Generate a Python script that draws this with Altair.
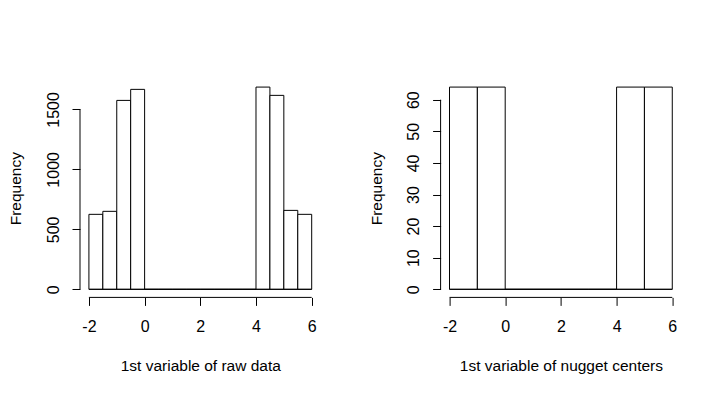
import altair as alt
import pandas as pd

# ---- data ----
raw_edges = [-2.0, -1.5, -1.0, -0.5, 0.0, 0.5, 1.0, 1.5, 2.0, 2.5, 3.0, 3.5,
             4.0, 4.5, 5.0, 5.5, 6.0]
raw_counts = [625, 650, 1575, 1667, 0, 0, 0, 0, 0, 0, 0, 0,
              1686, 1617, 658, 625]
nug_edges = [-2, -1, 0, 1, 2, 3, 4, 5, 6]
nug_counts = [64, 64, 0, 0, 0, 0, 64, 64]
x_ticks = [-2, 0, 2, 4, 6]
raw_y_ticks = [0, 500, 1000, 1500]
nug_y_ticks = [0, 10, 20, 30, 40, 50, 60]
raw_title = "1st variable of raw data"
nug_title = "1st variable of nugget centers"

W, H = 240.6, 218.4
FONT = "Liberation Sans"


def panel(edges, counts, yticks, xtitle):
    df = pd.DataFrame({"lo": edges[:-1], "hi": edges[1:], "n": counts})
    ymax = max(counts)
    xr = edges[-1] - edges[0]
    xs = alt.Scale(domain=[edges[0] - 0.04 * xr, edges[-1] + 0.04 * xr],
                   nice=False, zero=False)
    ys = alt.Scale(domain=[-0.04 * ymax, 1.04 * ymax], nice=False, zero=False)

    xaxis = alt.Axis(values=x_ticks, tickCount=len(x_ticks), domain=False,
                     grid=False, tickSize=8,
                     tickColor="black", tickWidth=1, labelFont=FONT,
                     labelFontSize=16, labelColor="black",
                     labelExpr="'' + datum.value",
                     labelBaseline="alphabetic", labelPadding=26.6,
                     labelFlush=False, labelOverlap=False, title=xtitle,
                     titleFont=FONT, titleFontSize=15.5,
                     titleFontWeight="normal", titleColor="black",
                     titleBaseline="alphabetic", titleAlign="center",
                     titleX=W / 2, titleY=73)
    yaxis = alt.Axis(values=yticks, tickCount=len(yticks), domain=False,
                     grid=False, tickSize=8,
                     tickColor="black", tickWidth=1, labelFont=FONT,
                     labelFontSize=16, labelColor="black", labelAngle=270,
                     labelExpr="'' + datum.value",
                     labelAlign="center", labelBaseline="alphabetic",
                     labelPadding=14, labelFlush=False, labelOverlap=False,
                     title="Frequency", titleFont=FONT, titleFontSize=15.5,
                     titleFontWeight="normal", titleColor="black",
                     titleAngle=270, titleBaseline="alphabetic",
                     titleAlign="center", titleX=-59.4, titleY=H / 2)

    bars = alt.Chart(df).mark_rect(fill="white", stroke="black",
                                   strokeWidth=1).encode(
        x=alt.X("lo:Q", scale=xs, axis=xaxis),
        x2="hi:Q",
        y=alt.Y("n:Q", scale=ys, axis=yaxis),
        y2=alt.datum(0),
    )
    base = alt.Chart(df).mark_rule(color="black", strokeWidth=1).encode(
        x=alt.X("min(lo):Q", scale=xs, axis=xaxis),
        x2="max(hi):Q",
        y=alt.datum(0),
    )
    xline = alt.Chart(pd.DataFrame({"a": [min(x_ticks)], "b": [max(x_ticks)]})
                      ).mark_rule(color="black", strokeWidth=1).encode(
        x=alt.X("a:Q", scale=xs, axis=xaxis),
        x2="b:Q",
        y=alt.value(H),
    )
    yline = alt.Chart(pd.DataFrame({"a": [min(yticks)], "b": [max(yticks)]})
                      ).mark_rule(color="black", strokeWidth=1).encode(
        y=alt.Y("a:Q", scale=ys, axis=yaxis),
        y2="b:Q",
        x=alt.value(0),
    )
    return alt.layer(bars, base, xline, yline).properties(width=W, height=H)


p1 = panel(raw_edges, raw_counts, raw_y_ticks, raw_title)
p2 = panel(nug_edges, nug_counts, nug_y_ticks, nug_title)

chart = alt.hconcat(p1, p2, spacing=119.6, bounds="flush").properties(
    padding={"left": 0, "top": 70, "right": 0, "bottom": 0},
    background="white",
).configure_view(stroke="transparent")

chart.save("out.html", embed_options={"renderer": "svg", "actions": False})
